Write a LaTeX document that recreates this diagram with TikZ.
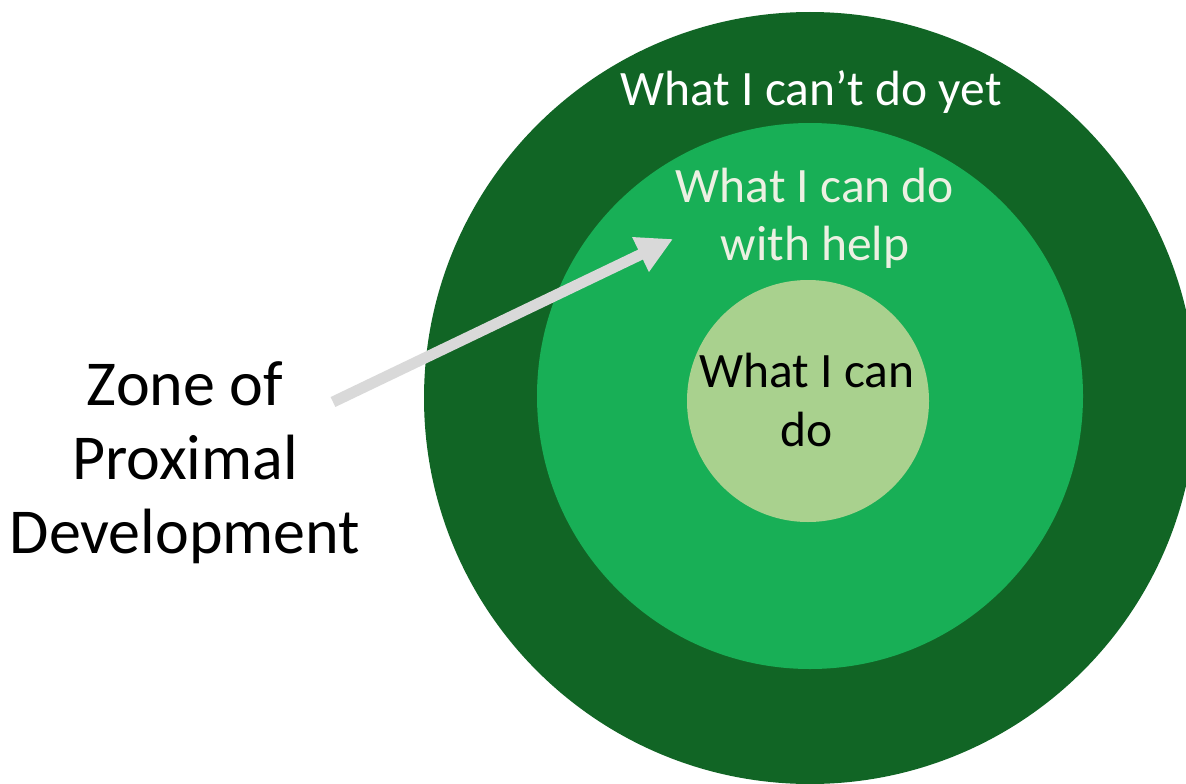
\documentclass[tikz,border=0pt]{standalone}
\usepackage{fontspec}
\setmainfont{Carlito}
\usetikzlibrary{arrows.meta}
\definecolor{outerg}{RGB}{17,101,37}
\definecolor{midg}{RGB}{24,175,86}
\definecolor{innerg}{RGB}{169,209,142}
\definecolor{midtext}{RGB}{236,240,226}
\definecolor{arrowgray}{RGB}{217,217,217}
\tikzset{
  ring/.style={draw=none},
  lbl/.style={inner sep=0pt, anchor=base, align=center},
  small/.style={font=\fontsize{49.5}{58}\selectfont},
  big/.style={font=\fontsize{64}{74}\selectfont},
  zparrow/.style={draw=arrowgray, line width=11pt, -{Triangle[length=36pt,width=36pt]}}
}
\begin{document}
\begin{tikzpicture}[x=1pt,y=-1pt]
\useasboundingbox (0,0) rectangle (1186,784);
\clip (0,0) rectangle (1186,784);
\fill[outerg] (810,398) circle[radius=386pt];
\fill[midg] (810,396) circle[radius=273pt];
\fill[innerg] (808,401) circle[radius=121pt];
\node[lbl, small, text=white] (cant) at (811,105) {What I can’t do yet};
\node[lbl, small, text=midtext] (help) at (815,260) {What I can do\\with help};
\node[lbl, small, text=black, font=\fontsize{49.5}{59}\selectfont] (can) at (807,446) {What I can\\do};
\node[lbl, big, text=black] (zpd) at (185,553) {Zone of\\Proximal\\Development};
\coordinate (atail) at (333,402);
\coordinate (ahead) at (673,239);
\draw[zparrow] (atail) -- (ahead);
\end{tikzpicture}
\end{document}
